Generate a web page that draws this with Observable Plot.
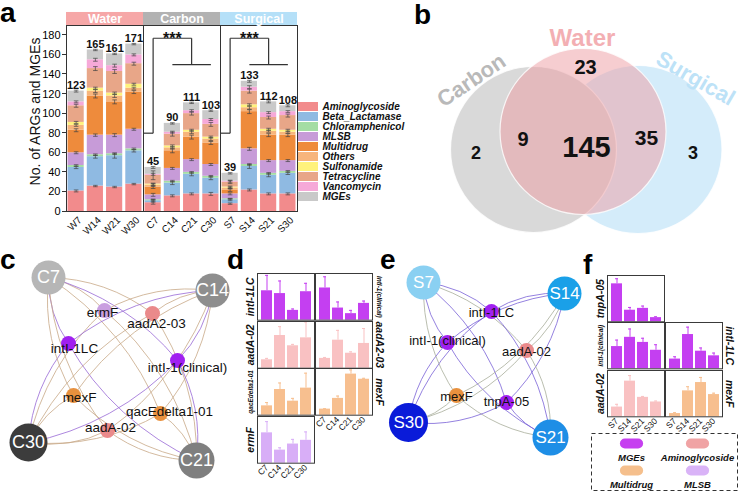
<!DOCTYPE html>
<html><head><meta charset="utf-8">
<script src="https://cdn.jsdelivr.net/npm/d3@7"></script>
<script src="https://cdn.jsdelivr.net/npm/@observablehq/plot@0.6"></script>
<style>
html,body{margin:0;padding:0;background:#fff;}
#root{position:relative;width:739px;height:492px;overflow:hidden;font-family:"Liberation Sans",Arial,sans-serif;}
.lt{position:absolute;font-weight:bold;font-size:28px;line-height:28px;color:#000;}
.ytk{position:absolute;width:4px;height:1px;background:#333;z-index:5;}
</style></head><body><div id="root"></div>
<script>
// ---------------- DATA ----------------
// Panel a
const samples = ["W7","W14","W21","W30","C7","C14","C21","C30","S7","S14","S21","S30"];
const totals = [123,165,161,171,45,90,111,103,39,133,112,108];
const yTickValues = [0,20,40,60,80,100,120,140,160,180];
const argClasses = ["Aminoglycoside","Beta_Lactamase","Chloramphenicol","MLSB","Multidrug","Others","Sulfonamide","Tetracycline","Vancomycin","MGEs"];
const classColors = ["#f28b8c","#8fbae2","#a4dda4","#c79bd8","#ee8b3c","#f7b57c","#fff27c","#e8a688","#f6a9d8","#c9c9c9"];
const Aminoglycoside = [21,26,25,28,9,16,18,18,8,22,18,18];
const Beta_Lactamase = [24,30,32,34,2,13,20,16,4,24,19,21];
const Chloramphenicol = [2,2,2,2,1,2,2,2,1,2,2,2];
const MLSB = [13,20,19,20,5,13,13,12,5,16,13,11];
const Multidrug = [23,40,34,38,8,18,23,22,4,38,26,26];
const Others = [5,5,6,4,2,3,5,4,2,4,4,3];
const Sulfonamide = [3,3,3,4,1,2,2,2,1,3,2,2];
const Tetracycline = [17,20,22,21,9,12,17,13,5,14,12,15];
const Vancomycin = [4,9,6,9,1,2,3,5,1,4,5,4];
const MGEs = [11,10,12,11,7,9,8,9,8,6,11,6];
// error bar half-widths at each segment top (same order as argClasses)
const errAminoglycoside = [1,0.7,0.7,0.7,1.5,1,1,1.5,0.7,1,1,1];
const errBeta_Lactamase = [1.2,1.5,2.5,1.2,1.5,1.5,1.5,1.5,1,2,1.5,1.2];
const errChloramphenicol = [0.8,0.8,0.8,0.8,0.5,0.8,0.8,0.8,0.5,0.8,0.8,0.8];
const errMLSB = [1,1.2,1.5,1,1.5,1,1,1,1,1.5,1,1];
const errMultidrug = [1.5,2,2,1.5,1.5,2,2,1.5,1.5,2,1.5,1.5];
const errOthers = [1,1.5,1.5,1,1.5,1,1.5,1.5,1,1.5,1,1];
const errSulfonamide = [1,1,1,1,1,1,1,1,1,1,1,1];
const errTetracycline = [1.5,2,2,1.5,4.5,2,1.5,2,1.5,2,1.5,1.5];
const errVancomycin = [1,1.5,1.5,1,1,1,1,1,1,1.5,1,1];
const errMGEs = [1,0.7,0.7,0.7,1,0.7,0.7,0.7,0.7,1,1,1];
const groups = ["Water","Carbon","Surgical"];
const groupPrefix = ["W","C","S"];
const groupColors = ["#f6a7a7","#b2b2b2","#b5e0f8"];
const sigTests = [
  {out:"C7", join:"C21", pair:["C14","C30"], low:80, high:177, mid:150, label:"***"},
  {out:"S7", join:"S21", pair:["S14","S30"], low:80, high:177, mid:150, label:"***"}
];

// Panel b (Venn)
const vennSets = ["Carbon","Water","Surgical"];
const vennSetFill = ["#d9d9d9","#ee9ca2","#c3e4f8"];
const vennSetOpacity = [1, 0.5, 0.72];
const vennTitleColors = ["#b9b9b9","#f3afb3","#bde2f7"];
const vennRegions = ["Carbon only","Water only","Surgical only","Carbon & Water","Water & Surgical","All three"];
const vennCounts = [2,23,3,9,35,145];

// Panel c / d (Carbon network and gene abundances)
const cSamples = ["C7","C14","C21","C30"];
const cSampleColors = ["#b6b6b6","#8e8e8e","#7f7f7f","#3c3c3c"];
const cGenes = ["ermF","aadA2-03","intI-1LC","intI-1(clinical)","mexF","qacEdelta1-01","aadA-02"];
const cGeneClass = ["MLSB","Aminoglycoside","MGEs","MGEs","Multidrug","Multidrug","Aminoglycoside"];
const dGenes = ["intI-1LC","intI-1(clinical)","aadA-02","aadA2-03","qacEdelta1-01","mexF","ermF"];
const dGeneClass = ["MGEs","MGEs","Aminoglycoside","Aminoglycoside","Multidrug","Multidrug","MLSB"];
const dMean = [[0.63,0.57,0.21,0.61],[0.69,0.26,0.14,0.36],[0.18,0.70,0.48,0.65],[0.21,0.60,0.32,0.53],[0.20,0.55,0.30,0.58],[0.13,0.36,0.88,0.77],[0.65,0.28,0.41,0.49]];
const dUpper = [[0.96,0.84,0.24,0.79],[0.93,0.39,0.21,0.41],[0.21,0.89,0.51,0.99],[0.23,0.81,0.35,0.85],[0.27,0.69,0.36,0.90],[0.14,0.41,0.97,0.79],[0.89,0.33,0.51,0.67]];

// Panel e / f (Surgical network and gene abundances)
const eSamples = ["S7","S14","S21","S30"];
const eSampleColors = ["#8ad0f2","#1aa0e8","#1e8ee6","#0a1bd9"];
const eGenes = ["intI-1LC","intI-1(clinical)","aadA-02","mexF","tnpA-05"];
const eGeneClass = ["MGEs","MGEs","Aminoglycoside","Multidrug","MGEs"];
const fGenes = ["tnpA-05","intI-1(clinical)","intI-1LC","aadA-02","mexF"];
const fGeneClass = ["MGEs","MGEs","MGEs","Aminoglycoside","Multidrug"];
const fMean = [[0.82,0.25,0.29,0.09],[0.48,0.68,0.57,0.40],[0.21,0.74,0.38,0.28],[0.21,0.77,0.42,0.32],[0.07,0.56,0.74,0.48]];
const fUpper = [[0.93,0.31,0.34,0.11],[0.62,0.86,0.66,0.52],[0.26,0.90,0.45,0.34],[0.27,0.89,0.44,0.34],[0.09,0.65,0.85,0.51]];

const geneLegend = ["MGEs","Aminoglycoside","Multidrug","MLSB"];
const miniColors = {MGEs:"#c43ff1", Aminoglycoside:"#f9c1c2", Multidrug:"#f7bf8f", MLSB:"#d8aef7"};
const netColors = {MGEs:"#a020f0", Aminoglycoside:"#ea8a8b", Multidrug:"#e8913e", MLSB:"#c99fe0"};
const legendPill = {MGEs:"#c63ff0", Aminoglycoside:"#f0a3a4", Multidrug:"#f5bf8c", MLSB:"#d9b3f7"};

// ---------------- LAYOUT ----------------
const FONT = "'Liberation Sans', Arial, sans-serif";
const root = document.getElementById("root");
const baseStyle = {background:"none", overflow:"visible", fontFamily: FONT, color:"#111"};
function place(el, left, top){ el.style.position="absolute"; el.style.left=left+"px"; el.style.top=top+"px"; root.appendChild(el); }
function letter(t, left, baseline){ const d=document.createElement("div"); d.className="lt"; d.textContent=t; d.style.left=left+"px"; d.style.top=(baseline-24)+"px"; root.appendChild(d); }

// ---------- Panel a ----------
const classValues = {Aminoglycoside,Beta_Lactamase,Chloramphenicol,MLSB,Multidrug,Others,Sulfonamide,Tetracycline,Vancomycin,MGEs};
const classErr = {Aminoglycoside:errAminoglycoside,Beta_Lactamase:errBeta_Lactamase,Chloramphenicol:errChloramphenicol,MLSB:errMLSB,Multidrug:errMultidrug,Others:errOthers,Sulfonamide:errSulfonamide,Tetracycline:errTetracycline,Vancomycin:errVancomycin,MGEs:errMGEs};
const stack = [];
samples.forEach((s,i)=>{ let c0=0; argClasses.forEach(c=>{ const v=classValues[c][i]; stack.push({i, cls:c, y1:c0, y2:c0+v, e:classErr[c][i]}); c0+=v; }); });
const groupInfo = groups.map((g,k)=>{ const idx=samples.map((s,i)=>s[0]===groupPrefix[k]?i:-1).filter(i=>i>=0); return {name:g, color:groupColors[k], i0:d3.min(idx), i1:d3.max(idx)}; });
const sepX = groupInfo.slice(1).map(g=>g.i0-0.5);
const sIdx = s=>samples.indexOf(s);
const segs = sigTests.flatMap(t=>{ const o=sIdx(t.out), j=sIdx(t.join), p0=sIdx(t.pair[0]), p1=sIdx(t.pair[1]);
  return [{x1:o-0.5,y1:t.low,x2:o,y2:t.low},{x1:o,y1:t.low,x2:o,y2:t.high},{x1:o,y1:t.high,x2:j,y2:t.high},{x1:j,y1:t.high,x2:j,y2:t.mid},{x1:p0,y1:t.mid,x2:p1,y2:t.mid}]; });
const sigLabels = sigTests.map(t=>({x:(sIdx(t.out)+sIdx(t.join))/2, y:t.high, label:t.label}));
const barHalf = 0.42, capHalf = 0.12;
const xMin = -0.5;
const yTickRows = yTickValues.map(v=>({v, label:String(v), x:xMin}));
const aBox = {width:300, height:250, marginLeft:66, marginRight:3, marginTop:25, marginBottom:39};
const pa = Plot.plot({
  ...aBox, style:baseStyle,
  x:{domain:[xMin, samples.length-0.5], axis:null},
  y:{domain:[0,190], axis:null},
  color:{domain:argClasses, range:classColors},
  marks:[
    Plot.rect(stack, {x1:d=>d.i-barHalf, x2:d=>d.i+barHalf, y1:"y1", y2:"y2", fill:"cls"}),
    Plot.link(stack, {x1:"i", x2:"i", y1:d=>d.y2-d.e, y2:d=>d.y2+d.e, stroke:"#444", strokeWidth:0.7}),
    Plot.link(stack, {x1:d=>d.i-capHalf, x2:d=>d.i+capHalf, y1:d=>d.y2+d.e, y2:d=>d.y2+d.e, stroke:"#444", strokeWidth:0.7}),
    Plot.link(stack, {x1:d=>d.i-capHalf, x2:d=>d.i+capHalf, y1:d=>d.y2-d.e, y2:d=>d.y2-d.e, stroke:"#444", strokeWidth:0.7}),
    Plot.ruleX(sepX, {stroke:"#333", strokeWidth:1}),
    Plot.frame({stroke:"#333", strokeWidth:1}),
    // y tick labels (anchored on the left edge of the frame)
    Plot.text(yTickRows, {x:"x", y:"v", text:"label", dx:-6, textAnchor:"end", lineAnchor:"middle", fontSize:11, fill:"#000"}),
    Plot.text(samples, {x:(d,i)=>i, frameAnchor:"bottom", rotate:-45, textAnchor:"end", lineAnchor:"middle", dx:4, dy:7, text:d=>d, fontSize:10, fill:"#111"}),
    Plot.text(["No. of ARGs and MGEs"], {frameAnchor:"left", rotate:-90, dx:-31, dy:-7, textAnchor:"middle", lineAnchor:"middle", fontSize:14, text:d=>d}),
    Plot.text(samples, {x:(d,i)=>i, y:(d,i)=>totals[i], text:(d,i)=>String(totals[i]), lineAnchor:"bottom", dy:-2, fontWeight:"bold", fontSize:11}),
    Plot.rect(groupInfo, {x1:g=>g.i0-0.5, x2:g=>g.i1+0.5, y1:190, y2:203.3, fill:g=>g.color}),
    Plot.text(groupInfo, {x:g=>(g.i0+g.i1)/2, y:196.6, text:"name", fill:"white", fontWeight:"bold", fontSize:12.5}),
    Plot.link(segs, {x1:"x1", y1:"y1", x2:"x2", y2:"y2", stroke:"#333", strokeWidth:1.2}),
    Plot.text(sigLabels, {x:"x", y:"y", text:"label", lineAnchor:"bottom", dy:6, fontWeight:"bold", fontSize:16})
  ]
});
place(pa, 0, 0);
// y-axis tick marks, positioned with panel a's own y scale
const aYScale = pa.scale("y");
yTickValues.forEach(v=>{
  const py = aYScale.apply(v);
  const k = document.createElement("div"); k.className="ytk";
  k.style.left=(aBox.marginLeft-4)+"px"; k.style.top=(py-0.5)+"px"; root.appendChild(k);
});

// legend a
const la = Plot.plot({
  width:110, height:112, margin:0, style:baseStyle,
  x:{domain:[0,110], range:[0,110], axis:null},
  y:{type:"band", domain:argClasses, range:[0,111], padding:0.1, axis:null},
  color:{domain:argClasses, range:classColors},
  marks:[
    Plot.barX(argClasses, {x1:0, x2:20, y:d=>d, fill:d=>d}),
    Plot.text(argClasses, {x:24, y:d=>d, text:d=>d, textAnchor:"start", fontSize:10, fontStyle:"italic", fontWeight:"bold"})
  ]
});
place(la, 298, 96);

// ---------- Panel b (Venn) ----------
const vennLayout = {
  circles:[[133,149,83],[182.5,131,83],[237.5,149,84]],
  titles:[[71,80,-34,22],[182,38,0,24],[295,78,30,22]],
  regions:[[75.5,153,18],[185,67,20],[292.5,153,18],[122.5,139,20],[246,137.5,21],[186,147,29]]
};
const circles = vennSets.map((s,k)=>({name:s, x:vennLayout.circles[k][0], y:vennLayout.circles[k][1], r:vennLayout.circles[k][2], fill:vennSetFill[k], op:vennSetOpacity[k]}));
const drawOrder = [0,2,1];
const titles = vennSets.map((s,k)=>({name:s, x:vennLayout.titles[k][0], y:vennLayout.titles[k][1], rot:vennLayout.titles[k][2], fs:vennLayout.titles[k][3], color:vennTitleColors[k]}));
const regionTexts = vennRegions.map((r,k)=>({name:r, n:vennCounts[k], x:vennLayout.regions[k][0], y:vennLayout.regions[k][1], fs:vennLayout.regions[k][2]}));
const pb = Plot.plot({
  width:339, height:250, margin:0, style:baseStyle,
  x:{domain:[0,339], range:[0,339], axis:null},
  y:{domain:[0,250], range:[0,250], axis:null},
  r:{type:"identity"}, color:{type:"identity"},
  marks:[
    Plot.dot(drawOrder.map(k=>circles[k]), {x:"x", y:"y", r:"r", fill:"fill", fillOpacity:"op", stroke:"white", strokeWidth:1.2, strokeOpacity:0.8}),
    ...titles.map(t=>Plot.text([t], {x:"x", y:"y", text:"name", rotate:t.rot, fill:"color", fontSize:t.fs, fontWeight:"bold"})),
    ...regionTexts.map(t=>Plot.text([t], {x:"x", y:"y", text:d=>String(d.n), fontSize:t.fs, fontWeight:"bold", fill:"#111"}))
  ]
});
place(pb, 400, 0);

// ---------- Networks ----------
function network(o){
  const W=o.w, H=o.h;
  const sNodes = o.samples.map((s,i)=>({id:s, x:o.sampleXY[i][0], y:o.sampleXY[i][1], r:o.sampleXY[i][2], fill:o.sampleColors[i]}));
  const gNodes = o.genes.map((g,k)=>({id:g, cls:o.geneClass[k], x:o.geneXY[k][0], y:o.geneXY[k][1], lx:o.geneXY[k][0]+o.geneXY[k][2], ly:o.geneXY[k][1]+o.geneXY[k][3]}));
  const cx=W/2, cy=H/2, edges=[];
  sNodes.forEach(s=>gNodes.forEach(g=>{
    const dx=g.x-s.x, dy=g.y-s.y, mx=(s.x+g.x)/2, my=(s.y+g.y)/2;
    const side = dy*(mx-cx) - dx*(my-cy);
    edges.push({x1:s.x,y1:s.y,x2:g.x,y2:g.y,pos:side>0,color:o.edgeColor(g.cls)});
  }));
  const ch = {x1:"x1",y1:"y1",x2:"x2",y2:"y2",headLength:0,stroke:"color",strokeWidth:0.9,strokeOpacity:0.9};
  const p = Plot.plot({
    width:W, height:H, margin:0, style:baseStyle,
    x:{domain:[0,W], range:[0,W], axis:null}, y:{domain:[0,H], range:[0,H], axis:null},
    r:{type:"identity"}, color:{type:"identity"},
    marks:[
      Plot.arrow(edges.filter(e=>e.pos), {...ch, bend:o.bend}),
      Plot.arrow(edges.filter(e=>!e.pos), {...ch, bend:-o.bend}),
      Plot.dot(sNodes, {x:"x", y:"y", r:"r", fill:"fill"}),
      Plot.dot(gNodes, {x:"x", y:"y", r:o.geneR, fill:d=>netColors[d.cls]}),
      Plot.text(sNodes, {x:"x", y:"y", text:"id", fill:"white", fontSize:o.sampleFont}),
      Plot.text(gNodes, {x:"lx", y:"ly", text:"id", fill:"#111", fontSize:o.geneFont})
    ]
  });
  place(p, o.left, o.top);
}
network({left:0, top:250, w:240, h:242, samples:cSamples, sampleColors:cSampleColors,
  sampleXY:[[48,27,17],[212,40,17],[196,210,18],[28,192,19]],
  genes:cGenes, geneClass:cGeneClass,
  geneXY:[[104,60,-2,2],[152,63,4,10],[68,93,6,5],[177,110,10,7],[73,145,6,2],[160,163,9,-2],[107,180,3,-3]],
  edgeColor:c=>c==="MGEs"?"#9a6bd6":"#c9aa88", bend:18, geneR:7.5, sampleFont:18, geneFont:13.5});
network({left:380, top:250, w:200, h:242, samples:eSamples, sampleColors:eSampleColors,
  sampleXY:[[43,32,17],[184,43,17],[170,187,18],[28,172,19.5]],
  genes:eGenes, geneClass:eGeneClass,
  geneXY:[[111,61,0,1],[67,92,0,-2],[146,100,0,1],[76,145,0,1],[126,152,0,-1]],
  edgeColor:c=>c==="MGEs"?"#7b63d8":"#aaae9c", bend:18, geneR:7.5, sampleFont:17, geneFont:13});

// ---------- Mini bar panels ----------
function mini(o){
  const mL=18, mR=18, mT=2, mB=o.showX?26:2;
  const data = o.samples.map((s,i)=>({s, v:o.mean[i], e:o.upper[i]}));
  const col = miniColors[o.cls];
  const long = o.gene.length > 9;
  const p = Plot.plot({
    width:o.w+mL+mR, height:o.h+mT+mB, marginLeft:mL, marginRight:mR, marginTop:mT, marginBottom:mB,
    style:baseStyle,
    x:{type:"band", domain:o.samples, padding:0.18, axis:null},
    y:{domain:[0,1], axis:null},
    marks:[
      Plot.ruleX(data, {x:"s", y1:"v", y2:"e", stroke:col, strokeWidth:1}),
      Plot.tickY(data, {x:"s", y:"e", stroke:col, insetLeft:4, insetRight:4}),
      Plot.barY(data, {x:"s", y:"v", fill:col}),
      Plot.frame({stroke:"#3a3a3a", strokeWidth:1}),
      Plot.text([o.gene], {frameAnchor:o.side, rotate:o.side==="left"?-90:90, dx:o.side==="left"?-7:7, textAnchor:"middle", lineAnchor:"middle", fontSize:long?6.5:10.5, fontStyle:"italic", fontWeight:"bold", text:d=>d}),
      o.showX ? Plot.axisX({anchor:"bottom", tickRotate:-45, tickSize:0, tickPadding:3, fontSize:8.5, label:null}) : null
    ]
  });
  place(p, o.left-mL, o.top-mT);
}
const dPos = [[0,0],[1,0],[0,1],[1,1],[0,2],[1,2],[0,3]];
const dGrid = {x0:257, y0:273, cw:58, ch:47.7};
dGenes.forEach((g,k)=>{ const [c,r]=dPos[k];
  const bottom = !dPos.some(p=>p[0]===c && p[1]>r);
  mini({gene:g, cls:dGeneClass[k], samples:cSamples, mean:dMean[k], upper:dUpper[k], side:c===0?"left":"right", showX:bottom,
    left:dGrid.x0+c*dGrid.cw, top:dGrid.y0+r*dGrid.ch, w:dGrid.cw-1, h:dGrid.ch-1}); });
const fPos = [[0,0],[0,1],[1,1],[0,2],[1,2]];
const fGrid = {x0:607, y0:275, cw:58, ch:47.3};
fGenes.forEach((g,k)=>{ const [c,r]=fPos[k];
  const bottom = !fPos.some(p=>p[0]===c && p[1]>r);
  mini({gene:g, cls:fGeneClass[k], samples:eSamples, mean:fMean[k], upper:fUpper[k], side:c===0?"left":"right", showX:bottom,
    left:fGrid.x0+c*fGrid.cw, top:fGrid.y0+r*fGrid.ch, w:fGrid.cw-1, h:fGrid.ch-1}); });

// legend f
const legItems = geneLegend.map((g,k)=>({name:g, col:k%2, row:Math.floor(k/2)}));
const lf = Plot.plot({
  width:146, height:57, margin:0, style:baseStyle,
  x:{domain:[0,1], range:[40,106], axis:null},
  y:{domain:[0,1], range:[10,37], axis:null},
  marks:[
    Plot.frame({stroke:"#333", strokeDasharray:"4,3", strokeWidth:1}),
    Plot.link(legItems, {x1:d=>d.col-0.1, x2:d=>d.col+0.1, y1:"row", y2:"row", stroke:d=>legendPill[d.name], strokeWidth:10, strokeLinecap:"round"}),
    Plot.text(legItems, {x:"col", y:"row", text:"name", dy:14, fontSize:9.5, fontWeight:"bold", fontStyle:"italic"})
  ]
});
place(lf, 591, 433);

// panel letters
letter("a", 0, 23); letter("b", 414, 25); letter("c", 0, 270); letter("d", 227, 270); letter("e", 380, 270); letter("f", 583, 275);
</script></body></html>
